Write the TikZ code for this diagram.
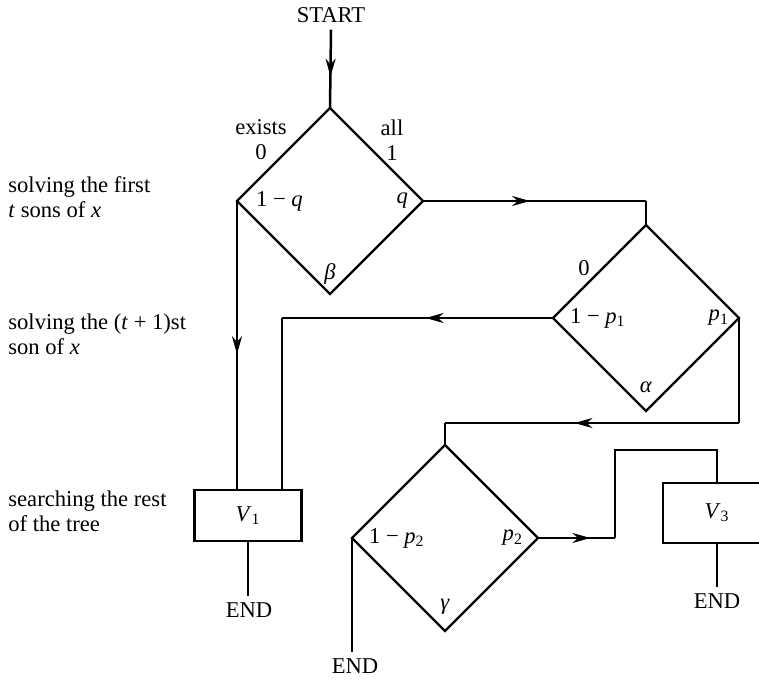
\documentclass[tikz,border=0pt]{standalone}
\usepackage{fontspec}
\setmainfont{Liberation Serif}
\usetikzlibrary{shapes.geometric,arrows.meta,decorations.markings,positioning}

\tikzset{
  flow/.style = {line width=1.25pt},
  choice/.style = {draw, diamond, line width=1.1pt, minimum width=93pt, minimum height=93pt, inner sep=0pt, outer sep=0pt},
  game/.style = {draw, rectangle, line width=1.1pt, inner sep=0pt, outer sep=0pt},
  arrowat/.style = {postaction={decorate}, decoration={markings, mark=at position #1 with {\arrow{Stealth[length=9pt,width=5pt]}}}}
}

\begin{document}
\begin{tikzpicture}[x=0.5pt, y=-0.5pt, font=\fontsize{11.3}{12.5}\selectfont]
    \useasboundingbox (0,0) rectangle (759,679);

    % Start and the three choice points
    \node (start) at (331,15) {START};
    \node[choice] (beta) at (330,201) {};
    \node[choice] (alpha) at (646,318) {};
    \node[choice] (gamma) at (445,538) {};

    % Boxes for the rest of the tree
    \node[game, minimum width=53.5pt, minimum height=25.5pt] (v1) at (248,515.5) {\textit{V}\textsubscript{1}};
    \node[game, minimum width=54pt, minimum height=30pt] (v3) at (717,513) {\textit{V}\textsubscript{3}};

    % End nodes
    \node (end1) at (249,610) {END};
    \node (end2) at (355,666) {END};
    \node (end3) at (717,601) {END};

    % Text on the left
    \node[anchor=west, inner sep=0pt, align=left] (first) at (8,197) {solving the first\\\textit{t} sons of \textit{x}};
    \node[anchor=west, inner sep=0pt, align=left] (next) at (8,334) {solving the (\textit{t} + 1)st\\son of \textit{x}};
    \node[anchor=west, inner sep=0pt, align=left] (rest) at (8,511) {searching the rest\\of the tree};

    % Labels at beta
    \node[align=center] (exists) at (261,140) {exists\\0};
    \node[align=center] (all) at (392,140) {all\\1};
    \node[anchor=west] (bl) at ([xshift=6pt]beta.west) {1 − \textit{q}};
    \node[anchor=east] (br) at ([xshift=-4pt]beta.east) {\textit{q}};
    \node (bb) at ([yshift=10pt]beta.south) {\textit{β}};

    % Labels at alpha
    \node (azero) at (584,268) {0};
    \node[anchor=west] (al) at ([xshift=5pt]alpha.west) {1 − \textit{p}\textsubscript{1}};
    \node[anchor=east] (ar) at ([xshift=-1.5pt]alpha.east) {\textit{p}\textsubscript{1}};
    \node (ab) at ([yshift=12pt]alpha.south) {\textit{α}};

    % Labels at gamma
    \node[anchor=west] (gl) at ([xshift=5pt]gamma.west) {1 − \textit{p}\textsubscript{2}};
    \node[anchor=east] (gr) at ([xshift=-4pt]gamma.east) {\textit{p}\textsubscript{2}};
    \node (gb) at ([yshift=12pt]gamma.south) {\textit{γ}};

    % Draw connectors
    \draw[flow, arrowat=0.6] (start.south) -- (beta.north);
    \draw[flow, arrowat=0.53] (beta.west) -- (beta.west |- v1.north);
    \draw[flow, arrowat=0.48] (beta.east) -- (beta.east -| alpha.north) coordinate (qc);
    \draw[flow] (qc) -- (alpha.north);
    \coordinate (k1) at (282,318);
    \draw[flow, arrowat=0.47] (alpha.west) -- (k1);
    \draw[flow] (k1) -- (k1 |- v1.north);
    \draw[flow] (alpha.east) -- ++(0,105) coordinate (k2);
    \draw[flow, arrowat=0.56] (k2) -- (k2 -| gamma.north) coordinate (k3);
    \draw[flow] (k3) -- (gamma.north);
    \coordinate (k4) at (615,538);
    \draw[flow, arrowat=0.68] (gamma.east) -- (k4);
    \draw[flow] (k4) -- ++(0,-88) coordinate (k5) -- (k5 -| v3.north) -- (v3.north);
    \draw[flow] (gamma.west) -- (gamma.west |- end2.north);
    \draw[flow] (v1.south) -- (v1.south |- end1.north);
    \draw[flow] (v3.south) -- (end3.north);
\end{tikzpicture}
\end{document}
